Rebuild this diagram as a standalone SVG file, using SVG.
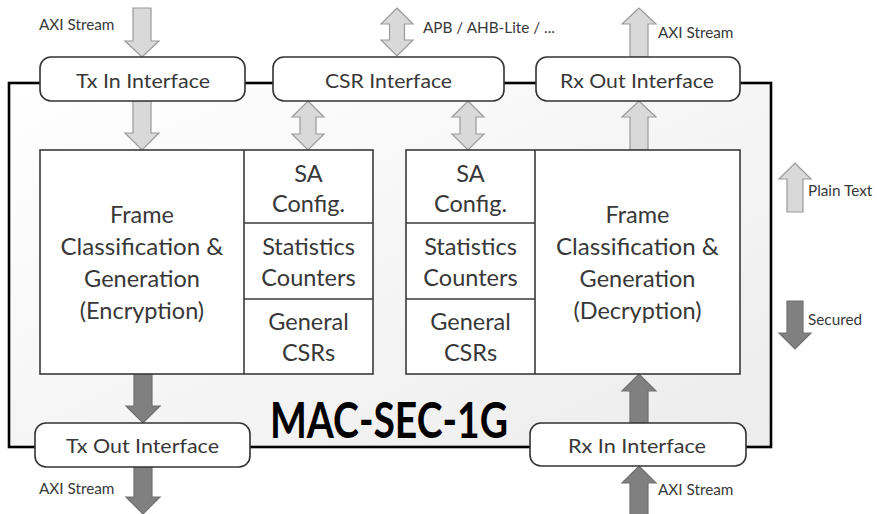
<svg xmlns="http://www.w3.org/2000/svg" width="877" height="514" viewBox="0 0 877 514">
  <defs>
    <linearGradient id="frameFill" x1="0" y1="0" x2="1" y2="1">
      <stop offset="0" stop-color="#ffffff"/>
      <stop offset="1" stop-color="#ececec"/>
    </linearGradient>
    <style>
      text { font-family: Lato, "Liberation Sans", sans-serif; fill: #383838; }
      .iface rect { fill: #ffffff; stroke: #333333; stroke-width: 1.6; }
      .iface text { font-size: 20px; text-anchor: middle; }
      .blk { fill: #ffffff; stroke: #3a3a3a; stroke-width: 1.6; }
      .div { stroke: #3a3a3a; stroke-width: 1.6; fill: none; }
      .lbl { font-size: 23.5px; text-anchor: middle; }
      .small { font-size: 15.3px; }
      .plain { fill: #d9d9d9; stroke: #9a9a9a; stroke-width: 1.2; stroke-linejoin: miter; }
      .sec { fill: #808080; stroke: #707070; stroke-width: 1.2; }
    </style>
  </defs>

  <!-- outer core boundary -->
  <rect id="core" x="9" y="83" width="762" height="364" fill="url(#frameFill)" stroke="#000000" stroke-width="2.6"/>

  <!-- data-path and register arrows -->
  <g id="connectors">
    <!-- Tx path (plain text in) -->
    <path class="plain" d="M133,8 H151 V41 H159 L142,57 L125,41 H133 Z"/>
    <path class="plain" d="M133,101 H151 V133 H159 L142,150 L125,133 H133 Z"/>
    <!-- CSR bus -->
    <path class="plain" d="M397,8 L413,24 H404.5 V40 H413 L397,56 L381,40 H389.5 V24 H381 Z"/>
    <path class="plain" d="M308,101 L324,117 H316 V134 H324 L308,150 L292,134 H300 V117 H292 Z"/>
    <path class="plain" d="M468,101 L484,117 H476 V134 H484 L468,150 L452,134 H460 V117 H452 Z"/>
    <!-- Rx path (plain text out) -->
    <path class="plain" d="M630,57 H648 V24 H656 L639,8 L622,24 H630 Z"/>
    <path class="plain" d="M630,150 H648 V117 H656 L639,101 L622,117 H630 Z"/>
    <!-- Tx path (secured out) -->
    <path class="sec" d="M134,374 H152 V406 H160 L143,423 L126,406 H134 Z"/>
    <path class="sec" d="M134,467 H152 V497 H160 L143,514 L126,497 H134 Z"/>
    <!-- Rx path (secured in) -->
    <path class="sec" d="M630,423 H648 V391 H656 L639,374 L622,391 H630 Z"/>
    <path class="sec" d="M630,520 H648 V483 H656 L639,466 L622,483 H630 Z"/>
  </g>

  <!-- interfaces -->
  <g id="tx-in" class="iface">
    <rect x="40" y="57" width="205" height="44" rx="11"/>
    <text x="143" y="88" textLength="134" lengthAdjust="spacingAndGlyphs">Tx In Interface</text>
  </g>
  <g id="csr-if" class="iface">
    <rect x="273" y="57" width="231" height="44" rx="11"/>
    <text x="388.5" y="88" textLength="127" lengthAdjust="spacingAndGlyphs">CSR Interface</text>
  </g>
  <g id="rx-out" class="iface">
    <rect x="536" y="57" width="204" height="44" rx="11"/>
    <text x="637" y="88" textLength="154" lengthAdjust="spacingAndGlyphs">Rx Out Interface</text>
  </g>
  <g id="tx-out" class="iface">
    <rect x="35" y="423" width="215" height="44" rx="11"/>
    <text x="142.5" y="453" textLength="153" lengthAdjust="spacingAndGlyphs">Tx Out Interface</text>
  </g>
  <g id="rx-in" class="iface">
    <rect x="530" y="423" width="216" height="43" rx="11"/>
    <text x="637" y="453" textLength="138" lengthAdjust="spacingAndGlyphs">Rx In Interface</text>
  </g>

  <!-- transmit engine -->
  <g id="tx-engine">
    <rect class="blk" x="40" y="150" width="333" height="224"/>
    <line class="div" x1="244" y1="150" x2="244" y2="374"/>
    <line class="div" x1="244" y1="223" x2="373" y2="223"/>
    <line class="div" x1="244" y1="299" x2="373" y2="299"/>
    <text class="lbl" x="142" y="223">Frame</text>
    <text class="lbl" x="142" y="255" textLength="163" lengthAdjust="spacingAndGlyphs">Classification &amp;</text>
    <text class="lbl" x="142" y="287">Generation</text>
    <text class="lbl" x="142" y="319">(Encryption)</text>
    <text class="lbl" x="308.5" y="182">SA</text>
    <text class="lbl" x="308.5" y="212">Config.</text>
    <text class="lbl" x="308.5" y="255">Statistics</text>
    <text class="lbl" x="308.5" y="286">Counters</text>
    <text class="lbl" x="308.5" y="330">General</text>
    <text class="lbl" x="308.5" y="361">CSRs</text>
  </g>

  <!-- receive engine -->
  <g id="rx-engine">
    <rect class="blk" x="406" y="150" width="334" height="224"/>
    <line class="div" x1="535" y1="150" x2="535" y2="374"/>
    <line class="div" x1="406" y1="223" x2="535" y2="223"/>
    <line class="div" x1="406" y1="299" x2="535" y2="299"/>
    <text class="lbl" x="470.5" y="182">SA</text>
    <text class="lbl" x="470.5" y="212">Config.</text>
    <text class="lbl" x="470.5" y="255">Statistics</text>
    <text class="lbl" x="470.5" y="286">Counters</text>
    <text class="lbl" x="470.5" y="330">General</text>
    <text class="lbl" x="470.5" y="361">CSRs</text>
    <text class="lbl" x="637.5" y="223">Frame</text>
    <text class="lbl" x="637.5" y="255" textLength="163" lengthAdjust="spacingAndGlyphs">Classification &amp;</text>
    <text class="lbl" x="637.5" y="287">Generation</text>
    <text class="lbl" x="637.5" y="319">(Decryption)</text>
  </g>

  <!-- core name -->
  <text id="title" x="389" y="438" font-size="50" font-weight="bold" text-anchor="middle" textLength="238" lengthAdjust="spacingAndGlyphs" style="fill:#000000">MAC-SEC-1G</text>

  <!-- bus labels -->
  <text class="small" x="39" y="30">AXI Stream</text>
  <text class="small" x="423" y="33">APB / AHB-Lite / ...</text>
  <text class="small" x="658" y="38">AXI Stream</text>
  <text class="small" x="39" y="494">AXI Stream</text>
  <text class="small" x="658" y="495">AXI Stream</text>

  <!-- legend -->
  <g id="legend">
    <path class="plain" d="M787,212 H803 V179 H811 L795,163 L779,179 H787 Z"/>
    <text class="small" x="808" y="196">Plain Text</text>
    <path class="sec" d="M787,301 H803 V333 H811 L795,349 L779,333 H787 Z"/>
    <text class="small" x="808" y="325">Secured</text>
  </g>
</svg>
